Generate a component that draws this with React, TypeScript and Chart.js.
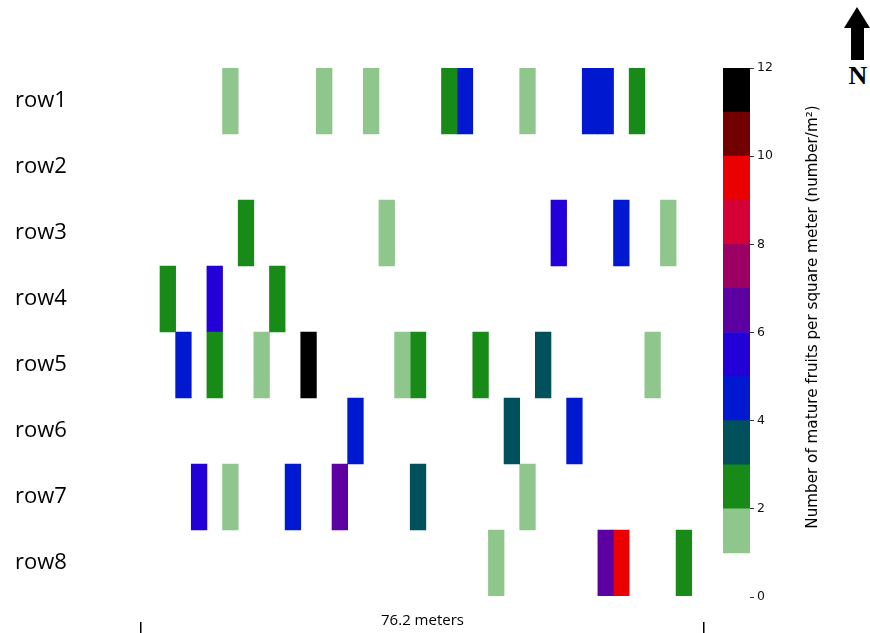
import React, { useEffect, useRef } from "react";
import { Chart, registerables } from "chart.js";

Chart.register(...registerables);

// Row names (top to bottom)
const rowLabels = ["row1", "row2", "row3", "row4", "row5", "row6", "row7", "row8"];

// Mature fruits per m² per cell along each row (0 = no fruit), 36 cells each
const row1 = [0, 0, 0, 0, 0, 1, 0, 0, 0, 0, 0, 1, 0, 0, 1, 0, 0, 0, 0, 2, 4, 0, 0, 0, 1, 0, 0, 0, 4, 4, 0, 2, 0, 0, 0, 0];
const row2 = [0, 0, 0, 0, 0, 0, 0, 0, 0, 0, 0, 0, 0, 0, 0, 0, 0, 0, 0, 0, 0, 0, 0, 0, 0, 0, 0, 0, 0, 0, 0, 0, 0, 0, 0, 0];
const row3 = [0, 0, 0, 0, 0, 0, 2, 0, 0, 0, 0, 0, 0, 0, 0, 1, 0, 0, 0, 0, 0, 0, 0, 0, 0, 0, 5, 0, 0, 0, 4, 0, 0, 1, 0, 0];
const row4 = [0, 2, 0, 0, 5, 0, 0, 0, 2, 0, 0, 0, 0, 0, 0, 0, 0, 0, 0, 0, 0, 0, 0, 0, 0, 0, 0, 0, 0, 0, 0, 0, 0, 0, 0, 0];
const row5 = [0, 0, 4, 0, 2, 0, 0, 1, 0, 0, 11, 0, 0, 0, 0, 0, 1, 2, 0, 0, 0, 2, 0, 0, 0, 3, 0, 0, 0, 0, 0, 0, 1, 0, 0, 0];
const row6 = [0, 0, 0, 0, 0, 0, 0, 0, 0, 0, 0, 0, 0, 4, 0, 0, 0, 0, 0, 0, 0, 0, 0, 3, 0, 0, 0, 4, 0, 0, 0, 0, 0, 0, 0, 0];
const row7 = [0, 0, 0, 5, 0, 1, 0, 0, 0, 4, 0, 0, 6, 0, 0, 0, 0, 3, 0, 0, 0, 0, 0, 0, 1, 0, 0, 0, 0, 0, 0, 0, 0, 0, 0, 0];
const row8 = [0, 0, 0, 0, 0, 0, 0, 0, 0, 0, 0, 0, 0, 0, 0, 0, 0, 0, 0, 0, 0, 0, 1, 0, 0, 0, 0, 0, 0, 6, 9, 0, 0, 0, 2, 0];

// Colour bar levels (lower bound of each bin) and tick labels
const colorLevels = [1, 2, 3, 4, 5, 6, 7, 8, 9, 10, 11];
const colorbarTicks = [0, 2, 4, 6, 8, 10, 12];
const palette = [
  "#8ec68c",
  "#178a18",
  "#00515b",
  "#0018cf",
  "#2300d8",
  "#5c00a2",
  "#9b0062",
  "#d40036",
  "#ea0000",
  "#720000",
  "#000000",
];

const scaleTitle = "76.2 meters";
const colorbarTitle = "Number of mature fruits per square meter (number/m²)";

const rows = [row1, row2, row3, row4, row5, row6, row7, row8];
const colorFor = (v: number) => palette[Math.min(palette.length - 1, Math.floor(v) - 1)];

const X_MIN = -0.215;
const X_MAX = 35.785;

function HeatChart() {
  const ref = useRef<HTMLCanvasElement>(null);
  useEffect(() => {
    const nCols = row1.length;
    const datasets: any[] = [];
    for (let i = 0; i < nCols; i++) {
      if (!rows.some((r) => r[i] > 0)) continue;
      datasets.push({
        data: rows.map((r) => (r[i] > 0 ? [i, i + 1] : null)),
        backgroundColor: rows.map((r) => (r[i] > 0 ? colorFor(r[i]) : "rgba(0,0,0,0)")),
        borderWidth: 0,
        grouped: false,
        barPercentage: 1,
        categoryPercentage: 1,
      });
    }
    const chart = new Chart(ref.current!, {
      type: "bar",
      data: { labels: rowLabels, datasets },
      options: {
        indexAxis: "y",
        animation: false,
        responsive: false,
        events: [],
        layout: { padding: { left: 15, top: 68, right: 16, bottom: 0 } },
        plugins: { legend: { display: false }, tooltip: { enabled: false } },
        scales: {
          y: {
            type: "category",
            grid: { display: false },
            border: { display: false },
            ticks: {
              color: "#000",
              crossAlign: "far",
              font: { family: "'Open Sans', sans-serif", size: 22 },
            },
            afterFit: (s: any) => {
              s.width = 126;
            },
          },
          x: {
            type: "linear",
            position: "bottom",
            min: X_MIN,
            max: X_MAX,
            grid: { display: false },
            border: { display: false },
            ticks: { display: false },
            title: {
              display: true,
              text: scaleTitle,
              color: "#000",
              font: { family: "'Open Sans', sans-serif", size: 15 },
              padding: { top: 0, bottom: -8 },
            },
            afterFit: (s: any) => {
              s.height = 26;
            },
          },
          x2: {
            type: "linear",
            position: "bottom",
            min: X_MIN,
            max: X_MAX,
            border: { display: false },
            ticks: { display: false },
            grid: {
              display: true,
              drawOnChartArea: false,
              drawTicks: true,
              tickLength: 11,
              color: "#000",
              lineWidth: 1.5,
            },
            afterBuildTicks: (s: any) => {
              s.ticks = [{ value: X_MIN }, { value: X_MAX }];
            },
            afterFit: (s: any) => {
              s.height = 11;
            },
          },
        },
      } as any,
    });
    return () => chart.destroy();
  }, []);
  return (
    <canvas
      ref={ref}
      width={720}
      height={633}
      style={{ position: "absolute", left: 0, top: 0, width: 720, height: 633 }}
    />
  );
}

function ColorBar() {
  const ref = useRef<HTMLCanvasElement>(null);
  useEffect(() => {
    const chart = new Chart(ref.current!, {
      type: "bar",
      data: {
        labels: [""],
        datasets: colorLevels.map((v, i) => ({
          data: [[v, v + 1]],
          backgroundColor: palette[i],
          borderWidth: 0,
          grouped: false,
          barPercentage: 1,
          categoryPercentage: 1,
        })),
      },
      options: {
        animation: false,
        responsive: false,
        events: [],
        layout: { padding: { left: 23, top: 68, right: 0, bottom: 36 } },
        plugins: { legend: { display: false }, tooltip: { enabled: false } },
        scales: {
          x: { display: false },
          y: {
            type: "linear",
            position: "right",
            min: 0,
            max: 12,
            border: { display: false },
            grid: {
              display: true,
              drawOnChartArea: false,
              drawTicks: true,
              tickLength: 4,
              color: "#333",
              lineWidth: 1,
            },
            afterBuildTicks: (s: any) => {
              s.ticks = colorbarTicks.map((v) => ({ value: v }));
            },
            ticks: {
              color: "#111",
              padding: 3,
              font: { family: "'DejaVu Sans', sans-serif", size: 12.5 },
            },
            afterFit: (s: any) => {
              s.width = 50;
            },
          },
        },
      } as any,
    });
    return () => chart.destroy();
  }, []);
  return (
    <canvas
      ref={ref}
      width={100}
      height={633}
      style={{ position: "absolute", left: 700, top: 0, width: 100, height: 633 }}
    />
  );
}

export default function App() {
  return (
    <div style={{ position: "absolute", left: 0, top: 0, width: 870, height: 633, background: "#fff", overflow: "hidden" }}>
      <HeatChart />
      <ColorBar />
      <div
        style={{
          position: "absolute",
          left: 812,
          top: 317,
          transform: "translate(-50%, -50%) rotate(-90deg)",
          whiteSpace: "nowrap",
          fontFamily: "'DejaVu Sans', sans-serif",
          fontSize: 15.2,
          color: "#000",
        }}
      >
        {colorbarTitle}
      </div>
      <svg
        width={30}
        height={60}
        style={{ position: "absolute", left: 843, top: 6 }}
      >
        <polygon points="14,1 27,22 21,22 21,54 8,54 8,22 1,22" fill="#000" />
      </svg>
      <div
        style={{
          position: "absolute",
          left: 858,
          top: 63,
          transform: "translateX(-50%)",
          fontFamily: "'Liberation Serif', 'DejaVu Serif', serif",
          fontWeight: "bold",
          fontSize: 26,
          lineHeight: 1,
          color: "#000",
        }}
      >
        N
      </div>
    </div>
  );
}
